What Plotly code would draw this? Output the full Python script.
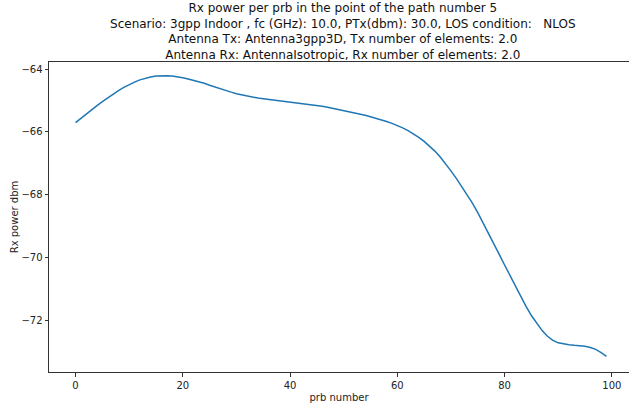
import plotly.graph_objects as go

prb = list(range(100))
rx_power = [
    -65.70, -65.56, -65.42, -65.29, -65.16, -65.03, -64.91, -64.79, -64.68, -64.58,
    -64.49, -64.41, -64.34, -64.29, -64.25, -64.22, -64.21, -64.21, -64.22, -64.24,
    -64.27, -64.31, -64.35, -64.40, -64.45, -64.51, -64.57, -64.63, -64.68, -64.73,
    -64.78, -64.82, -64.85, -64.88, -64.92, -64.94, -64.96, -64.98, -65.00, -65.02,
    -65.04, -65.06, -65.08, -65.10, -65.125, -65.15, -65.18, -65.21, -65.245, -65.28,
    -65.315, -65.35, -65.39, -65.43, -65.47, -65.515, -65.56, -65.61, -65.665, -65.725,
    -65.79, -65.87, -65.96, -66.06, -66.17, -66.30, -66.45, -66.61, -66.80, -67.01,
    -67.24, -67.48, -67.73, -67.99, -68.27, -68.57, -68.89, -69.22, -69.56, -69.90,
    -70.24, -70.58, -70.92, -71.25, -71.56, -71.85, -72.11, -72.33, -72.51, -72.64,
    -72.72, -72.76, -72.78, -72.80, -72.81, -72.83, -72.87, -72.93, -73.03, -73.15,
]
x_ticks = [0, 20, 40, 60, 80, 100]
y_ticks = [-64, -66, -68, -70, -72]

title_lines = [
    "Rx power per prb in the point of the path number 5",
    "Scenario: 3gpp Indoor , fc (GHz): 10.0, PTx(dbm): 30.0, LOS condition:   NLOS",
    "Antenna Tx: Antenna3gpp3D, Tx number of elements: 2.0",
    "Antenna Rx: AntennaIsotropic, Rx number of elements: 2.0",
]

fig = go.Figure()
fig.add_trace(go.Scatter(x=prb, y=rx_power, mode="lines",
                         line=dict(color="#1f77b4", width=1.5), showlegend=False))

axis_common = dict(showgrid=False, zeroline=False, showline=True, mirror=True,
                   linecolor="#333333", linewidth=1, ticks="outside", ticklen=3.5,
                   tickcolor="#333333", tickfont=dict(size=10, color="#222222"))

fig.update_layout(
    width=629, height=404,
    margin=dict(l=49, r=0, t=62, b=32),
    paper_bgcolor="white", plot_bgcolor="white",
    font=dict(family="DejaVu Sans", color="#222222"),
    title=dict(text="<br>".join(title_lines), x=0.545, xanchor="center",
               xref="container", y=0.97, yanchor="top", yref="container",
               font=dict(size=12, color="#111111")),
    xaxis=dict(range=[-4.95, 103.2], tickvals=x_ticks,
               title=dict(text="prb number", font=dict(size=10), standoff=4),
               **axis_common),
    yaxis=dict(range=[-73.65, -63.77], tickvals=y_ticks,
               title=dict(text="Rx power dbm", font=dict(size=10), standoff=0),
               **axis_common),
)

fig.write_html("out.html", config={"displayModeBar": False},
               post_script="document.body.style.margin='0';document.body.style.padding='0';")
